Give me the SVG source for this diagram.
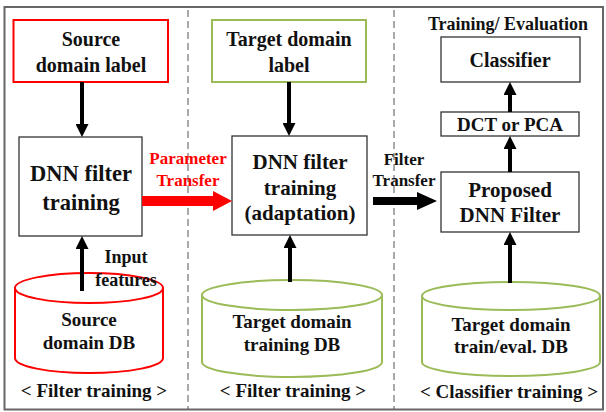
<svg xmlns="http://www.w3.org/2000/svg" width="606" height="412" viewBox="0 0 606 412">
<defs>
<style>
text{font-family:"Liberation Serif","Times New Roman",serif;font-weight:bold;fill:#111;text-anchor:middle}
.box{fill:#fff;stroke:#333;stroke-width:1.3}
.red{fill:#fff;stroke:#ff0000;stroke-width:2}
.grn{fill:#fff;stroke:#9bbb59;stroke-width:2}
.conn{stroke:#000;stroke-width:4;fill:none}
.div{stroke:#555;stroke-width:1;stroke-dasharray:7,4}
.t20{font-size:20px}
.t21{font-size:21px}
.t19{font-size:19px}
.t22{font-size:22.5px}
.lbl{font-size:17px}
</style>
<marker id="ah" viewBox="0 0 13 13" markerWidth="13" markerHeight="13" refX="5" refY="6.5" orient="auto" markerUnits="userSpaceOnUse">
<path d="M0,0 L13,6.5 L0,13 z" fill="#000"/>
</marker>
</defs>
<rect x="0" y="0" width="606" height="412" fill="#fff"/>
<rect x="4.5" y="7" width="598.5" height="402.5" fill="none" stroke="#666" stroke-width="2"/>
<line class="div" x1="188" y1="10" x2="188" y2="409"/>
<line class="div" x1="394" y1="10" x2="394" y2="409"/>

<g id="source-label">
<rect class="red" x="13.5" y="20" width="154.5" height="62"/>
<text class="t20" x="91" y="46">Source</text>
<text class="t20" x="91" y="72">domain label</text>
</g>
<g id="target-label">
<rect class="grn" x="212" y="20" width="154" height="62"/>
<text class="t20" x="289" y="46">Target domain</text>
<text class="t20" x="289" y="72">label</text>
</g>
<g id="eval-title">
<text style="font-size:18px" x="508" y="30">Training/ Evaluation</text>
</g>
<g id="classifier">
<rect class="box" x="441" y="37" width="139" height="45"/>
<text class="t20" x="510" y="67">Classifier</text>
</g>
<g id="dnn-left">
<rect class="box" x="19" y="137" width="123" height="99"/>
<text class="t22" x="81" y="181">DNN filter</text>
<text class="t22" x="81" y="210">training</text>
</g>
<g id="dnn-mid">
<rect class="box" x="232" y="136" width="135" height="99"/>
<text class="t21" x="300" y="169">DNN filter</text>
<text class="t21" x="300" y="195">training</text>
<text class="t21" x="300" y="220">(adaptation)</text>
</g>
<g id="dct">
<rect class="box" x="441" y="112" width="138" height="24"/>
<text class="t19" x="510" y="131">DCT or PCA</text>
</g>
<g id="proposed">
<rect class="box" x="441" y="172" width="138" height="60"/>
<text class="t21" x="510" y="197">Proposed</text>
<text class="t21" x="510" y="222">DNN Filter</text>
</g>
<g id="source-db">
<path class="red" d="M15,288 L15,358 A74,15 0 0 0 163,358 L163,288"/>
<ellipse class="red" cx="89" cy="288" rx="74" ry="15"/>
<text class="t19" x="89" y="326">Source</text>
<text class="t19" x="89" y="349">domain DB</text>
</g>
<g id="target-db">
<path class="grn" d="M202,295 L202,362 A90,15 0 0 0 382,362 L382,295"/>
<ellipse class="grn" cx="292" cy="295" rx="90" ry="15"/>
<text class="t19" x="292" y="328">Target domain</text>
<text class="t19" x="292" y="351">training DB</text>
</g>
<g id="eval-db">
<path class="grn" d="M422,296 L422,362 A89,14 0 0 0 600,362 L600,296"/>
<ellipse class="grn" cx="511" cy="296" rx="89" ry="14"/>
<text class="t19" x="511" y="331">Target domain</text>
<text class="t19" x="511" y="353">train/eval. DB</text>
</g>
<g id="captions">
<text class="t19" x="94" y="397">&lt; Filter training &gt;</text>
<text class="t19" x="293" y="397">&lt; Filter training &gt;</text>
<text class="t19" x="509" y="398">&lt; Classifier training &gt;</text>
</g>

<g id="connectors">
<line class="conn" x1="82" y1="82" x2="82" y2="129" marker-end="url(#ah)"/>
<line class="conn" x1="289" y1="82" x2="289" y2="128" marker-end="url(#ah)"/>
<line class="conn" x1="82" y1="291" x2="82" y2="244" marker-end="url(#ah)"/>
<line class="conn" x1="290" y1="282" x2="290" y2="243" marker-end="url(#ah)"/>
<line class="conn" x1="510" y1="283" x2="510" y2="240" marker-end="url(#ah)"/>
<line class="conn" x1="510" y1="172" x2="510" y2="144" marker-end="url(#ah)"/>
<line class="conn" x1="510" y1="112" x2="510" y2="90" marker-end="url(#ah)"/>
<polygon points="142,196 213,196 213,191 232,201 213,211 213,206 142,206" fill="#ff0000"/>
<polygon points="373,197 417,197 417,192 437,201 417,210 417,205 373,205" fill="#000"/>
<text style="fill:#ff0000;font-size:17px" x="188" y="164">Parameter</text>
<text style="fill:#ff0000;font-size:17px" x="188" y="186">Transfer</text>
<text class="lbl" x="404" y="165">Filter</text>
<text class="lbl" x="404" y="186">Transfer</text>
<text style="font-size:18px" x="126" y="263">Input</text>
<text style="font-size:18px" x="126" y="286">features</text>
</g>
</svg>
